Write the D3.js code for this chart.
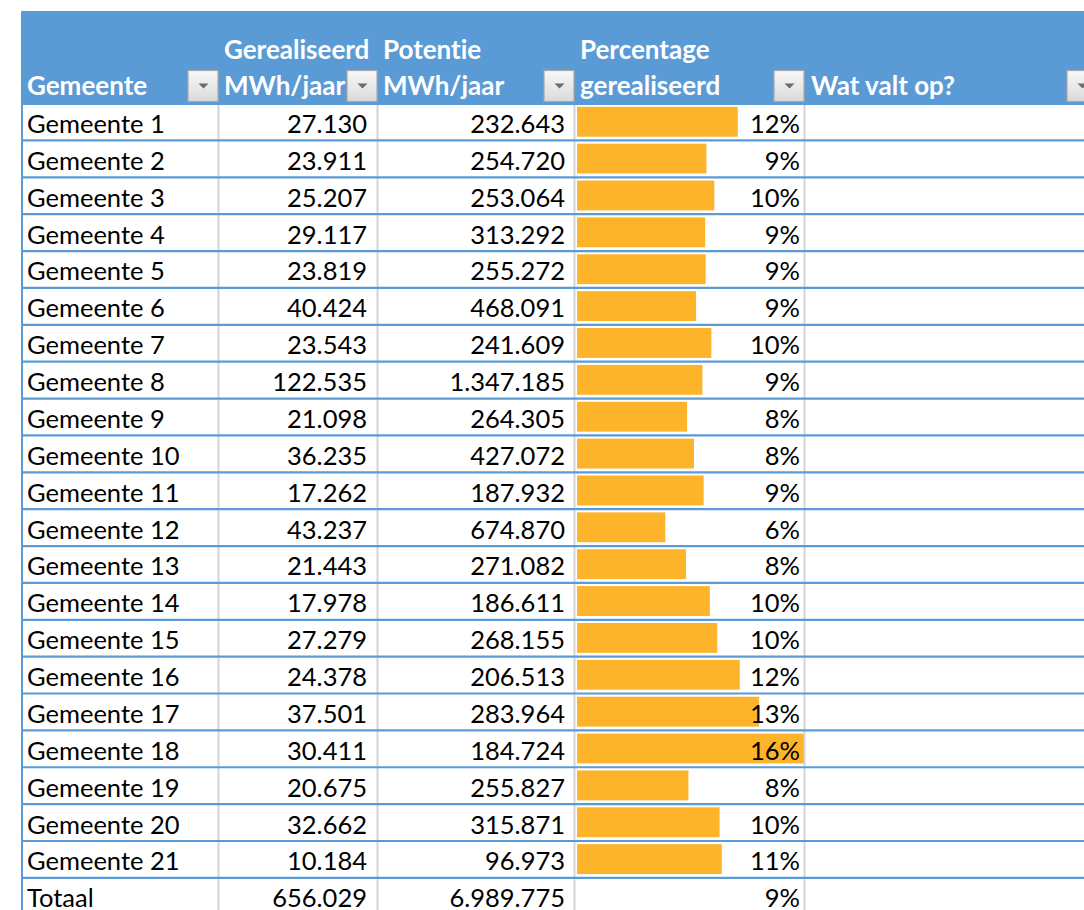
<!DOCTYPE html>
<html>
<head>
<meta charset="utf-8">
<script src="https://cdn.jsdelivr.net/npm/d3@7"></script>
<style>
  html, body { margin: 0; padding: 0; background: #ffffff; }
  svg { display: block; }
  text { font-family: Lato, "Open Sans", sans-serif; font-variant-ligatures: none; font-feature-settings: "liga" 0, "clig" 0; }
</style>
</head>
<body>
<svg id="chart" width="1084" height="910"></svg>
<script>
// ---------- data ----------
const gemeenten = ["Gemeente 1","Gemeente 2","Gemeente 3","Gemeente 4","Gemeente 5","Gemeente 6","Gemeente 7",
  "Gemeente 8","Gemeente 9","Gemeente 10","Gemeente 11","Gemeente 12","Gemeente 13","Gemeente 14",
  "Gemeente 15","Gemeente 16","Gemeente 17","Gemeente 18","Gemeente 19","Gemeente 20","Gemeente 21"];
const gerealiseerd = [27130, 23911, 25207, 29117, 23819, 40424, 23543, 122535, 21098, 36235, 17262,
  43237, 21443, 17978, 27279, 24378, 37501, 30411, 20675, 32662, 10184];
const potentie = [232643, 254720, 253064, 313292, 255272, 468091, 241609, 1347185, 264305, 427072, 187932,
  674870, 271082, 186611, 268155, 206513, 283964, 184724, 255827, 315871, 96973];
const totaalLabel = "Totaal";
const totaalGerealiseerd = 656029;
const totaalPotentie = 6989775;
const headerLine1 = ["", "Gerealiseerd", "Potentie", "Percentage", ""];
const headerLine2 = ["Gemeente", "MWh/jaar", "MWh/jaar", "gerealiseerd", "Wat valt op?"];

// ---------- layout ----------
const W = 1084, H = 910;
const colEdges = [22, 219, 378, 575, 805, 1098];
const headerTop = 11, headerBottom = 105;
const rowH = 36.87, rowsTop = 103.6;
const blue = "#5B9BD5", grid = "#D4D4D4", barColor = "#FDB42B";

const rows = gemeenten.map((g, i) => ({
  name: g, real: gerealiseerd[i], pot: potentie[i], pct: gerealiseerd[i] / potentie[i], bar: true
}));
rows.push({ name: totaalLabel, real: totaalGerealiseerd, pot: totaalPotentie,
  pct: totaalGerealiseerd / totaalPotentie, bar: false });

const nl = d3.formatLocale({ decimal: ",", thousands: ".", grouping: [3], currency: ["€", ""] });
const fmtNum = nl.format(",d");
const fmtPct = d3.format(".0%");

const y = d3.scaleBand().domain(rows.map(r => r.name))
  .range([rowsTop, rowsTop + rows.length * rowH]).paddingInner(0).paddingOuter(0);
const barX = d3.scaleLinear().domain([0, d3.max(rows.filter(r => r.bar), r => r.pct)])
  .range([colEdges[3] + 2, colEdges[4] - 1]);

const svg = d3.select("#chart");
svg.append("rect").attr("width", W).attr("height", H).attr("fill", "#fff");

const defs = svg.append("defs");
const grad = defs.append("linearGradient").attr("id", "btn").attr("x1", 0).attr("y1", 0).attr("x2", 0).attr("y2", 1);
grad.append("stop").attr("offset", "0%").attr("stop-color", "#F8F8F8");
grad.append("stop").attr("offset", "100%").attr("stop-color", "#DADADA");

// data bars
svg.append("g").selectAll("rect").data(rows.filter(r => r.bar)).join("rect")
  .attr("x", barX(0))
  .attr("y", d => y(d.name) + 3.2)
  .attr("width", d => barX(d.pct) - barX(0))
  .attr("height", y.bandwidth() - 7)
  .attr("fill", barColor);

// vertical grid lines
svg.append("g").selectAll("line").data(colEdges.slice(1, 5)).join("line")
  .attr("x1", d => d - 0.5).attr("x2", d => d - 0.5)
  .attr("y1", headerBottom).attr("y2", H)
  .attr("stroke", grid).attr("stroke-width", 2);

// left border
svg.append("line").attr("x1", colEdges[0]).attr("x2", colEdges[0])
  .attr("y1", headerBottom).attr("y2", H).attr("stroke", blue).attr("stroke-width", 2);

// horizontal row lines
svg.append("g").selectAll("line").data(rows).join("line")
  .attr("x1", colEdges[0] - 1).attr("x2", W)
  .attr("y1", d => y(d.name) + y.bandwidth()).attr("y2", d => y(d.name) + y.bandwidth())
  .attr("stroke", blue).attr("stroke-width", 2.2);

// header
svg.append("rect").attr("x", 21).attr("y", headerTop).attr("width", W - 21).attr("height", headerBottom - headerTop)
  .attr("fill", blue);

const hx = [27, 224, 383, 580, 811];
const hg = svg.append("g").attr("fill", "#fff").attr("font-weight", 700).attr("font-size", 26);
hg.selectAll("text.l1").data(headerLine1).join("text").attr("class", "l1")
  .attr("x", (d, i) => hx[i]).attr("y", 59).text(d => d);
hg.selectAll("text.l2").data(headerLine2).join("text").attr("class", "l2")
  .attr("x", (d, i) => hx[i]).attr("y", 95).text(d => d);

// filter buttons
const btn = svg.append("g").selectAll("g").data(colEdges.slice(1)).join("g")
  .attr("transform", d => `translate(${d - 31},70.5)`);
btn.append("rect").attr("width", 30).attr("height", 31)
  .attr("fill", "url(#btn)").attr("stroke", "#A8A8A8").attr("stroke-width", 1.2);
btn.append("path").attr("d", "M10.5,13 L20.5,13 L15.5,18 Z").attr("fill", "#6B6B6B");

// cell texts
const tg = svg.append("g").attr("font-size", 25.5).attr("fill", "#000");
const rowG = tg.selectAll("g").data(rows).join("g")
  .attr("transform", d => `translate(0,${y(d.name) + y.bandwidth() - 7.5})`);
rowG.append("text").attr("x", colEdges[0] + 5).text(d => d.name);
rowG.append("text").attr("x", colEdges[2] - 11).attr("text-anchor", "end").text(d => fmtNum(d.real));
rowG.append("text").attr("x", colEdges[3] - 10).attr("text-anchor", "end").text(d => fmtNum(d.pot));
rowG.append("text").attr("x", colEdges[4] - 5).attr("text-anchor", "end").text(d => fmtPct(d.pct));
</script>
</body>
</html>
